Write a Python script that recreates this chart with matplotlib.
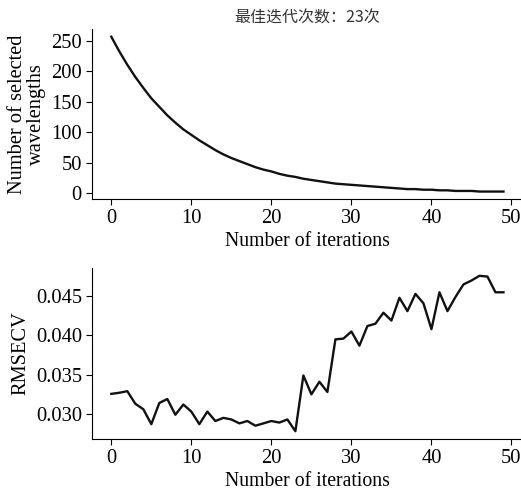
import matplotlib
matplotlib.use("Agg")
import matplotlib.pyplot as plt

plt.rcParams["font.family"] = ["Liberation Serif", "Noto Sans CJK SC"]

iterations = list(range(50))

n_wavelengths = [
    257, 233, 211, 191, 173, 156, 142, 128, 116, 105,
    96, 87, 79, 71, 64, 58, 53, 48, 43, 39,
    36, 32, 29, 27, 24, 22, 20, 18, 16, 15,
    14, 13, 12, 11, 10, 9, 8, 7, 7, 6,
    6, 5, 5, 4, 4, 4, 3, 3, 3, 3,
]

rmsecv = [
    0.03256, 0.0327, 0.0329, 0.0313, 0.0306, 0.0287, 0.0314, 0.0319, 0.0299, 0.0312,
    0.0303, 0.0287, 0.0303, 0.0291, 0.0295, 0.0293, 0.0288, 0.0291, 0.0285, 0.0288,
    0.0291, 0.0289, 0.0293, 0.0278, 0.0349, 0.0325, 0.0341, 0.0328, 0.0395, 0.0396,
    0.0405, 0.0387, 0.0412, 0.0415, 0.0429, 0.0419, 0.0448, 0.0431, 0.0453, 0.0441,
    0.0408, 0.0455, 0.0431, 0.0449, 0.0465, 0.0470, 0.0476, 0.0475, 0.0455, 0.0455,
]

title = "最佳迭代次数：23次"

fig = plt.figure(figsize=(5.21, 4.90), dpi=100)
ax1 = fig.add_axes([0.176, 0.5933, 0.828, 0.3475])
ax2 = fig.add_axes([0.176, 0.1041, 0.828, 0.3489])

ax1.plot(iterations, n_wavelengths, color="#111111", lw=1.7)
ax1.set_yticks([0, 50, 100, 150, 200, 250])
ax1.set_ylabel("Number of selected\nwavelengths", fontsize=14.7, linespacing=0.95)
ax1.set_title(title, fontsize=11.5, family=["Noto Sans CJK SC", "Liberation Serif"],
              color="#333333", pad=5)

ax2.plot(iterations, rmsecv, color="#111111", lw=1.7)
ax2.set_yticks([0.030, 0.035, 0.040, 0.045])
ax2.set_yticklabels(["0.030", "0.035", "0.040", "0.045"])
ax2.set_ylabel("RMSECV", fontsize=14.7)

for ax in [ax1, ax2]:
    ax.set_xlabel("Number of iterations", fontsize=14.2, labelpad=3)
    ax.set_xticks([0, 10, 20, 30, 40, 50])
    ax.spines["top"].set_visible(False)
    ax.spines["right"].set_visible(False)
    ax.tick_params(labelsize=14.8, length=4, pad=3)

fig.savefig("out.png", dpi=100)
